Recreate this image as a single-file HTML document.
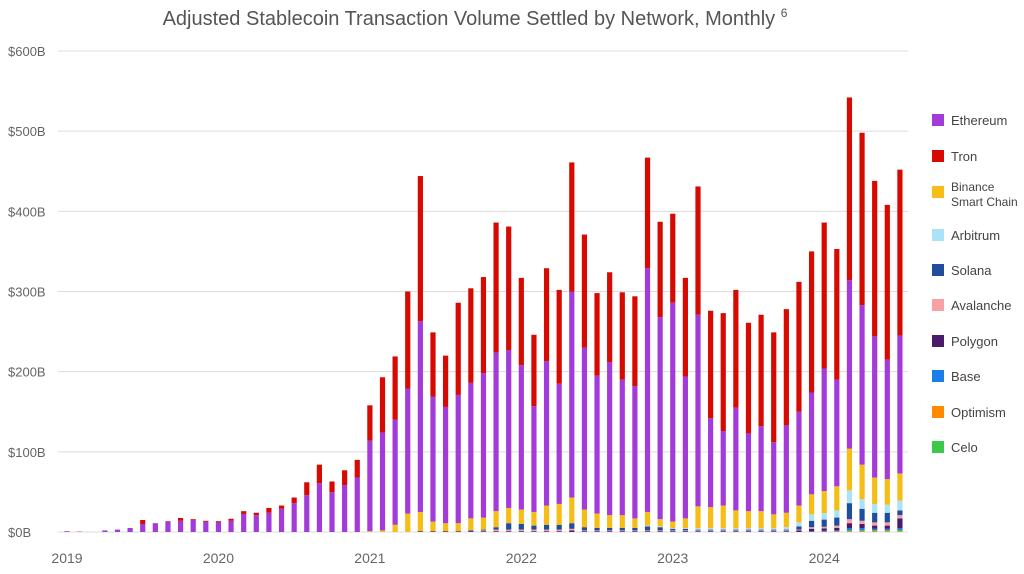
<!DOCTYPE html>
<html><head><meta charset="utf-8"><style>
body{margin:0;background:#fff;font-family:"Liberation Sans",sans-serif;}
#c{position:absolute;left:0;top:0;}
</style></head><body>
<svg id="c" width="1024" height="574">
<text x="475" y="25" text-anchor="middle" font-size="20" fill="#555">Adjusted Stablecoin Transaction Volume Settled by Network, Monthly <tspan font-size="12" dy="-8">6</tspan></text>
<g id="grid"></g><g id="bars"></g><g id="xlab"></g><g id="legend"></g>
</svg>
<script>
const yTicks=[0,100,200,300,400,500,600];
const yTickLabels=["$0B","$100B","$200B","$300B","$400B","$500B","$600B"];
const years=["2019","2020","2021","2022","2023","2024"];
const seriesNames=["Celo","Optimism","Base","Polygon","Avalanche","Solana","Arbitrum","Binance Smart Chain","Ethereum","Tron"];
const legendOrder=[8,9,7,6,5,4,3,2,1,0];
const z24=new Array(24).fill(0);
const celo=z24.concat([0,0,0,0,0,0,0,0,0,0, 0,0,0,0,0,0,0,0,0,0, 0,0,0,0,0,0,0,0,0,0, 0,0,0,0,0,0,0,0,1,1,1,1,1]);
const optimism=z24.concat([0,0,0,0,0,0,0,0,0,0, 0,0,0,0,0,0,0,0,0,0, 0,0,0,0,0,0,0,0,0,0, 0,0,0,0,0,0,0.5,1,1,1,1,1,1]);
const base=z24.concat([0,0,0,0,0,0,0,0,0,0, 0,0,0,0,0,0,0,0,0,0, 0,0,0,0,0,0,0,0,0,0, 0,0,0,0,0,1,1,1,3,3,2,2,3]);
const polygon=z24.concat([0,0,0,0,1,1,1,1,1,1, 1,1,1,1,1,1,2,1,1,1, 1,1,1,1,1,1,1,1,1,1, 1,1,1,1,2,3,3,3,6,5,4,4,12]);
const avalanche=z24.concat([0,0,0,0,0,0,0,0,0,1, 2,2,2,2,2,2,2,1,1,1, 1,1,1,1,1,1,1,1,1,1, 1,1,1,1,1,2,2,3,5,4,4,4,4]);
const solana=z24.concat([0,0,0,0,0,0,0,0,1,1, 3,8,7,5,6,6,7,4,3,3, 3,3,5,4,2,2,1,1,1,1, 1,1,1,1,4,8,9,10,20,15,12,12,6]);
const arbitrum=z24.concat([0,0,0,0,0,0,0,0,0,0, 0,0,0,0,0,0,0,0,0,0, 0,0,1,1,1,1,2,2,2,2, 2,2,2,3,5,8,8,9,16,12,11,10,12]);
const bsc=z24.concat([1,2,9,23,24,12,10,10,15,15, 20,19,18,17,24,26,32,22,18,16, 16,12,17,9,8,12,27,26,28,22, 21,21,17,18,21,25,27.5,30,52,43,33,32,34]);
const ethereum=[1,0.5,0,2,3,5,10,11,13,14,15,13,12,14,22.5,21,24,29,36,46,61,49.5,58.5,68,
 113,122,131,156,238,156,145,160,169,180, 198,197,180,132,180,150,257,202,172,191, 169,165,304,252,273,177,239,111,93,128, 97,106,90,109,117,127,153,133,210,199,176,149,172];
const tron=[0,0,0,0,0,0,5,0,0.5,3.5,1,1,1.5,2.5,3.5,3,6,4,7,16,23,13.5,18.5,22,
 44,69,79,121,181,80,64,115,118,120, 162,154,109,89,116,117,161,141,103,112, 109,112,138,119,111,123,160,134,147,147, 138,139,137,145,162,176,182,163,228,215,194,193,207];
const colors=["#3cc84a","#ff8a00","#1a7ee6","#4a1a6b","#f7a1a4","#1f4e9c","#a9e3f5","#f5bd16","#a23bd9","#d60a00"];
const data=[celo,optimism,base,polygon,avalanche,solana,arbitrum,bsc,ethereum,tron];
const NS="http://www.w3.org/2000/svg";
const y=v=>532-v*0.8017;
const x=i=>67+i*12.62;
function mk(t,a,p){const e=document.createElementNS(NS,t);for(const k in a)e.setAttribute(k,a[k]);p.appendChild(e);return e;}
const grid=document.getElementById('grid');
yTicks.forEach((t,k)=>{
 const l=mk('line',{x1:58,x2:908,y1:y(t),y2:y(t),stroke:'#dcdcdc','stroke-width':1},grid);
 
 
 const tx=mk('text',{x:8,y:y(t)+5,'font-size':13,fill:'#666'},grid);
 tx.textContent=yTickLabels[k];
 
 
});
const xl=document.getElementById('xlab');
years.forEach((yr,k)=>{
 const t=mk('text',{x:x(k*12),y:563,'font-size':14,fill:'#666','text-anchor':'middle'},xl);
 t.textContent=yr;
 
 
});
const bars=document.getElementById('bars');
for(let i=0;i<ethereum.length;i++){
 let cum=0;
 data.forEach((s,si)=>{
  const v=s[i];if(!v)return;
  const r=mk('rect',{x:x(i)-2.6,y:y(cum+v),width:5.2,height:Math.max(0,y(cum)-y(cum+v)),fill:colors[si]},bars);
  
  
  cum+=v;
 });
}
const lg=document.getElementById('legend');
const ly=[120,156,192,235,270,305,341,376,412,447];
for(let k=0;k<10;k++){
 const si=legendOrder[k];
 const r=mk('rect',{x:932,y:ly[k]-6,width:12,height:12,fill:colors[si]},lg);
 
 
 const t=mk('text',{x:951,y:ly[k]+5,'font-size':13,fill:'#444'},lg);
 
 
 if(si===7){t.setAttribute('font-size',12);t.setAttribute('y',ly[k]-1);
  const a=mk('tspan',{x:951},t);a.textContent='Binance';
  const b=mk('tspan',{x:951,dy:15},t);b.textContent='Smart Chain';}
 else t.textContent=seriesNames[si];
}
</script>
</body></html>
